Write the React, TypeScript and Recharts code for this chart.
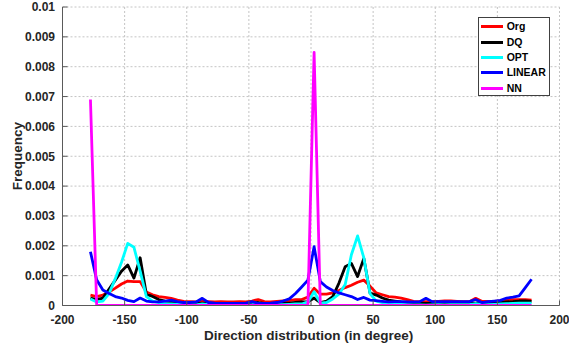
import React from 'react';
import { LineChart, Line, XAxis, YAxis, CartesianGrid, Legend } from 'recharts';

const FONT = '"Liberation Sans", Arial, Helvetica, sans-serif';

// Bin centres (degrees)
const directions = [
  -177.5, -172.5, -167.5, -162.5, -157.5, -152.5, -147.5, -142.5, -137.5, -132.5,
  -127.5, -122.5, -117.5, -112.5, -107.5, -102.5, -97.5, -92.5, -87.5, -82.5,
  -77.5, -72.5, -67.5, -62.5, -57.5, -52.5, -47.5, -42.5, -37.5, -32.5,
  -27.5, -22.5, -17.5, -12.5, -7.5, -2.5, 2.5, 7.5, 12.5, 17.5,
  22.5, 27.5, 32.5, 37.5, 42.5, 47.5, 52.5, 57.5, 62.5, 67.5,
  72.5, 77.5, 82.5, 87.5, 92.5, 97.5, 102.5, 107.5, 112.5, 117.5,
  122.5, 127.5, 132.5, 137.5, 142.5, 147.5, 152.5, 157.5, 162.5, 167.5,
  172.5, 177.5,
];

const org = [
  0.35e-3, 0.3e-3, 0.35e-3, 0.45e-3, 0.58e-3, 0.72e-3, 0.82e-3, 0.8e-3, 0.8e-3, 0.45e-3,
  0.36e-3, 0.3e-3, 0.27e-3, 0.24e-3, 0.18e-3, 0.14e-3, 0.13e-3, 0.12e-3, 0.14e-3, 0.13e-3,
  0.12e-3, 0.13e-3, 0.12e-3, 0.12e-3, 0.13e-3, 0.12e-3, 0.15e-3, 0.2e-3, 0.13e-3, 0.12e-3,
  0.14e-3, 0.15e-3, 0.16e-3, 0.2e-3, 0.2e-3, 0.28e-3, 0.58e-3, 0.38e-3, 0.38e-3, 0.42e-3,
  0.5e-3, 0.6e-3, 0.68e-3, 0.78e-3, 0.85e-3, 0.65e-3, 0.42e-3, 0.36e-3, 0.3e-3, 0.28e-3,
  0.25e-3, 0.2e-3, 0.14e-3, 0.13e-3, 0.13e-3, 0.13e-3, 0.14e-3, 0.15e-3, 0.15e-3, 0.14e-3,
  0.13e-3, 0.13e-3, 0.24e-3, 0.14e-3, 0.14e-3, 0.14e-3, 0.15e-3, 0.2e-3, 0.2e-3, 0.2e-3,
  0.2e-3, 0.18e-3,
];

const dq = [
  0.25e-3, 0.2e-3, 0.25e-3, 0.55e-3, 0.85e-3, 1.15e-3, 1.36e-3, 0.92e-3, 1.6e-3, 0.38e-3,
  0.3e-3, 0.2e-3, 0.15e-3, 0.12e-3, 0.1e-3, 0.08e-3, 0.07e-3, 0.07e-3, 0.08e-3, 0.06e-3,
  0.06e-3, 0.06e-3, 0.06e-3, 0.06e-3, 0.07e-3, 0.07e-3, 0.08e-3, 0.1e-3, 0.07e-3, 0.06e-3,
  0.07e-3, 0.08e-3, 0.08e-3, 0.1e-3, 0.12e-3, 0.12e-3, 0.25e-3, 0.1e-3, 0.15e-3, 0.3e-3,
  0.75e-3, 1.3e-3, 1.41e-3, 0.97e-3, 1.58e-3, 0.42e-3, 0.35e-3, 0.25e-3, 0.18e-3, 0.15e-3,
  0.12e-3, 0.1e-3, 0.08e-3, 0.08e-3, 0.07e-3, 0.07e-3, 0.07e-3, 0.08e-3, 0.07e-3, 0.07e-3,
  0.07e-3, 0.08e-3, 0.08e-3, 0.1e-3, 0.08e-3, 0.08e-3, 0.1e-3, 0.12e-3, 0.13e-3, 0.15e-3,
  0.15e-3, 0.14e-3,
];

const opt = [
  0.22e-3, 0.12e-3, 0.15e-3, 0.4e-3, 0.9e-3, 1.45e-3, 2.08e-3, 1.95e-3, 1.15e-3, 0.3e-3,
  0.15e-3, 0.1e-3, 0.06e-3, 0.05e-3, 0.04e-3, 0.03e-3, 0.03e-3, 0.02e-3, 0.05e-3, 0.03e-3,
  0.02e-3, 0.02e-3, 0.03e-3, 0.03e-3, 0.02e-3, 0.02e-3, 0.03e-3, 0.05e-3, 0.03e-3, 0.02e-3,
  0.03e-3, 0.03e-3, 0.04e-3, 0.05e-3, 0.05e-3, 0.12e-3, 0.46e-3, 0.08e-3, 0.1e-3, 0.22e-3,
  0.38e-3, 0.7e-3, 1.7e-3, 2.33e-3, 1.6e-3, 0.4e-3, 0.15e-3, 0.1e-3, 0.06e-3, 0.05e-3,
  0.04e-3, 0.03e-3, 0.02e-3, 0.02e-3, 0.01e-3, 0.02e-3, 0.03e-3, 0.02e-3, 0.03e-3, 0.03e-3,
  0.03e-3, 0.03e-3, 0.06e-3, 0.04e-3, 0.03e-3, 0.04e-3, 0.05e-3, 0.06e-3, 0.07e-3, 0.08e-3,
  0.08e-3, 0.08e-3,
];

const linear = [
  1.8e-3, 0.86e-3, 0.52e-3, 0.4e-3, 0.3e-3, 0.25e-3, 0.17e-3, 0.13e-3, 0.25e-3, 0.15e-3,
  0.12e-3, 0.12e-3, 0.15e-3, 0.18e-3, 0.13e-3, 0.1e-3, 0.1e-3, 0.12e-3, 0.24e-3, 0.1e-3,
  0.08e-3, 0.07e-3, 0.07e-3, 0.07e-3, 0.07e-3, 0.08e-3, 0.13e-3, 0.07e-3, 0.07e-3, 0.08e-3,
  0.1e-3, 0.15e-3, 0.22e-3, 0.4e-3, 0.62e-3, 0.85e-3, 1.97e-3, 0.8e-3, 0.62e-3, 0.5e-3,
  0.42e-3, 0.36e-3, 0.3e-3, 0.2e-3, 0.27e-3, 0.18e-3, 0.16e-3, 0.14e-3, 0.12e-3, 0.13e-3,
  0.13e-3, 0.12e-3, 0.12e-3, 0.13e-3, 0.24e-3, 0.13e-3, 0.13e-3, 0.13e-3, 0.13e-3, 0.13e-3,
  0.13e-3, 0.13e-3, 0.2e-3, 0.1e-3, 0.13e-3, 0.15e-3, 0.17e-3, 0.25e-3, 0.28e-3, 0.32e-3,
  0.6e-3, 0.88e-3,
];

const nn = [
  6.9e-3, 0, 0, 0, 0, 0, 0, 0, 0, 0,
  0, 0, 0, 0, 0, 0, 0, 0, 0, 0,
  0, 0, 0, 0, 0, 0, 0, 0, 0, 0,
  0, 0, 0, 0, 0, 0, 8.48e-3, 0, 0, 0,
  0, 0, 0, 0, 0, 0, 0, 0, 0, 0,
  0, 0, 0, 0, 0, 0, 0, 0, 0, 0,
  0, 0, 0, 0, 0, 0, 0, 0, 0, 0,
  0, 0,
];

const xTicks = [-200, -150, -100, -50, 0, 50, 100, 150, 200];
const yTicks = [0, 0.001, 0.002, 0.003, 0.004, 0.005, 0.006, 0.007, 0.008, 0.009, 0.01];
const seriesNames = ['Org', 'DQ', 'OPT', 'LINEAR', 'NN'];
const seriesColors = ['#ff0000', '#000000', '#00ffff', '#0000ff', '#ff00ff'];
const seriesValues = [org, dq, opt, linear, nn];

const AXIS_COLOR = '#5a5a5a';
const TEXT_COLOR = '#262626';

const renderLegend = () => (
  <div
    style={{
      width: 72,
      height: 79,
      border: '1px solid #404040',
      background: '#ffffff',
      boxSizing: 'border-box',
      paddingTop: 1.5,
      fontFamily: FONT,
    }}
  >
    {seriesNames.map((n, i) => (
      <div key={n} style={{ display: 'flex', alignItems: 'center', height: 15.35 }}>
        <div style={{ width: 22, height: 3, background: seriesColors[i], marginLeft: 2.5 }} />
        <span
          style={{
            marginLeft: 3.5,
            fontSize: 10.5,
            fontWeight: 'bold',
            color: '#000',
            lineHeight: '15px',
          }}
        >
          {n}
        </span>
      </div>
    ))}
  </div>
);

export default function App() {
  const data = directions.map((d, i) => {
    const row: Record<string, number> = { x: d };
    seriesNames.forEach((n, k) => {
      row[n] = seriesValues[k][i];
    });
    return row;
  });

  const tickStyle = { fill: TEXT_COLOR, fontSize: 12, fontWeight: 'bold', fontFamily: FONT };

  return (
    <div
      style={{
        position: 'absolute',
        left: 0,
        top: 0,
        width: 569,
        height: 350,
        background: '#ffffff',
        fontFamily: FONT,
      }}
    >
      <LineChart
        width={569}
        height={350}
        data={data}
        margin={{ top: 7, right: 9.5, bottom: 0, left: 0 }}
      >
        <CartesianGrid stroke="#c4c4c4" strokeDasharray="2 2" />
        <XAxis
          dataKey="x"
          type="number"
          domain={[-200, 200]}
          ticks={xTicks}
          interval={0}
          height={44.5}
          tickSize={-5}
          tickMargin={15}
          stroke={AXIS_COLOR}
          tick={tickStyle}
          allowDataOverflow
        />
        <XAxis
          xAxisId="top"
          orientation="top"
          type="number"
          domain={[-200, 200]}
          ticks={xTicks}
          height={0}
          mirror
          tick={false}
          tickSize={5}
          stroke={AXIS_COLOR}
        />
        <YAxis
          type="number"
          domain={[0, 0.01]}
          ticks={yTicks}
          interval={0}
          width={62.5}
          tickSize={-5}
          tickMargin={12.5}
          stroke={AXIS_COLOR}
          tick={tickStyle}
          allowDataOverflow
        />
        <YAxis
          yAxisId="right"
          orientation="right"
          type="number"
          domain={[0, 0.01]}
          ticks={yTicks}
          width={0}
          mirror
          tick={false}
          tickSize={5}
          stroke={AXIS_COLOR}
        />
        {seriesNames.map((n, i) => (
          <Line
            key={n}
            type="linear"
            dataKey={n}
            name={n}
            stroke={seriesColors[i]}
            strokeWidth={2.8}
            strokeLinejoin="round"
            dot={false}
            activeDot={false}
            isAnimationActive={false}
          />
        ))}
        <Legend
          layout="vertical"
          align="center"
          verticalAlign="middle"
          content={renderLegend}
          wrapperStyle={{ position: 'absolute', left: 477.7, top: 16.7, width: 72, height: 79, margin: 0, padding: 0 }}
        />
      </LineChart>
      <div
        style={{
          position: 'absolute',
          left: 158.7,
          top: 327.5,
          width: 300,
          height: 16,
          lineHeight: '16px',
          textAlign: 'center',
          fontSize: 13.5,
          fontWeight: 'bold',
          color: TEXT_COLOR,
          whiteSpace: 'nowrap',
        }}
      >
        Direction distribution (in degree)
      </div>
      <div
        style={{
          position: 'absolute',
          left: 18 - 50,
          top: 156.25 - 8,
          width: 100,
          height: 16,
          lineHeight: '16px',
          textAlign: 'center',
          fontSize: 13.5,
          fontWeight: 'bold',
          color: TEXT_COLOR,
          whiteSpace: 'nowrap',
          transform: 'rotate(-90deg)',
          transformOrigin: '50% 50%',
        }}
      >
        Frequency
      </div>
    </div>
  );
}
